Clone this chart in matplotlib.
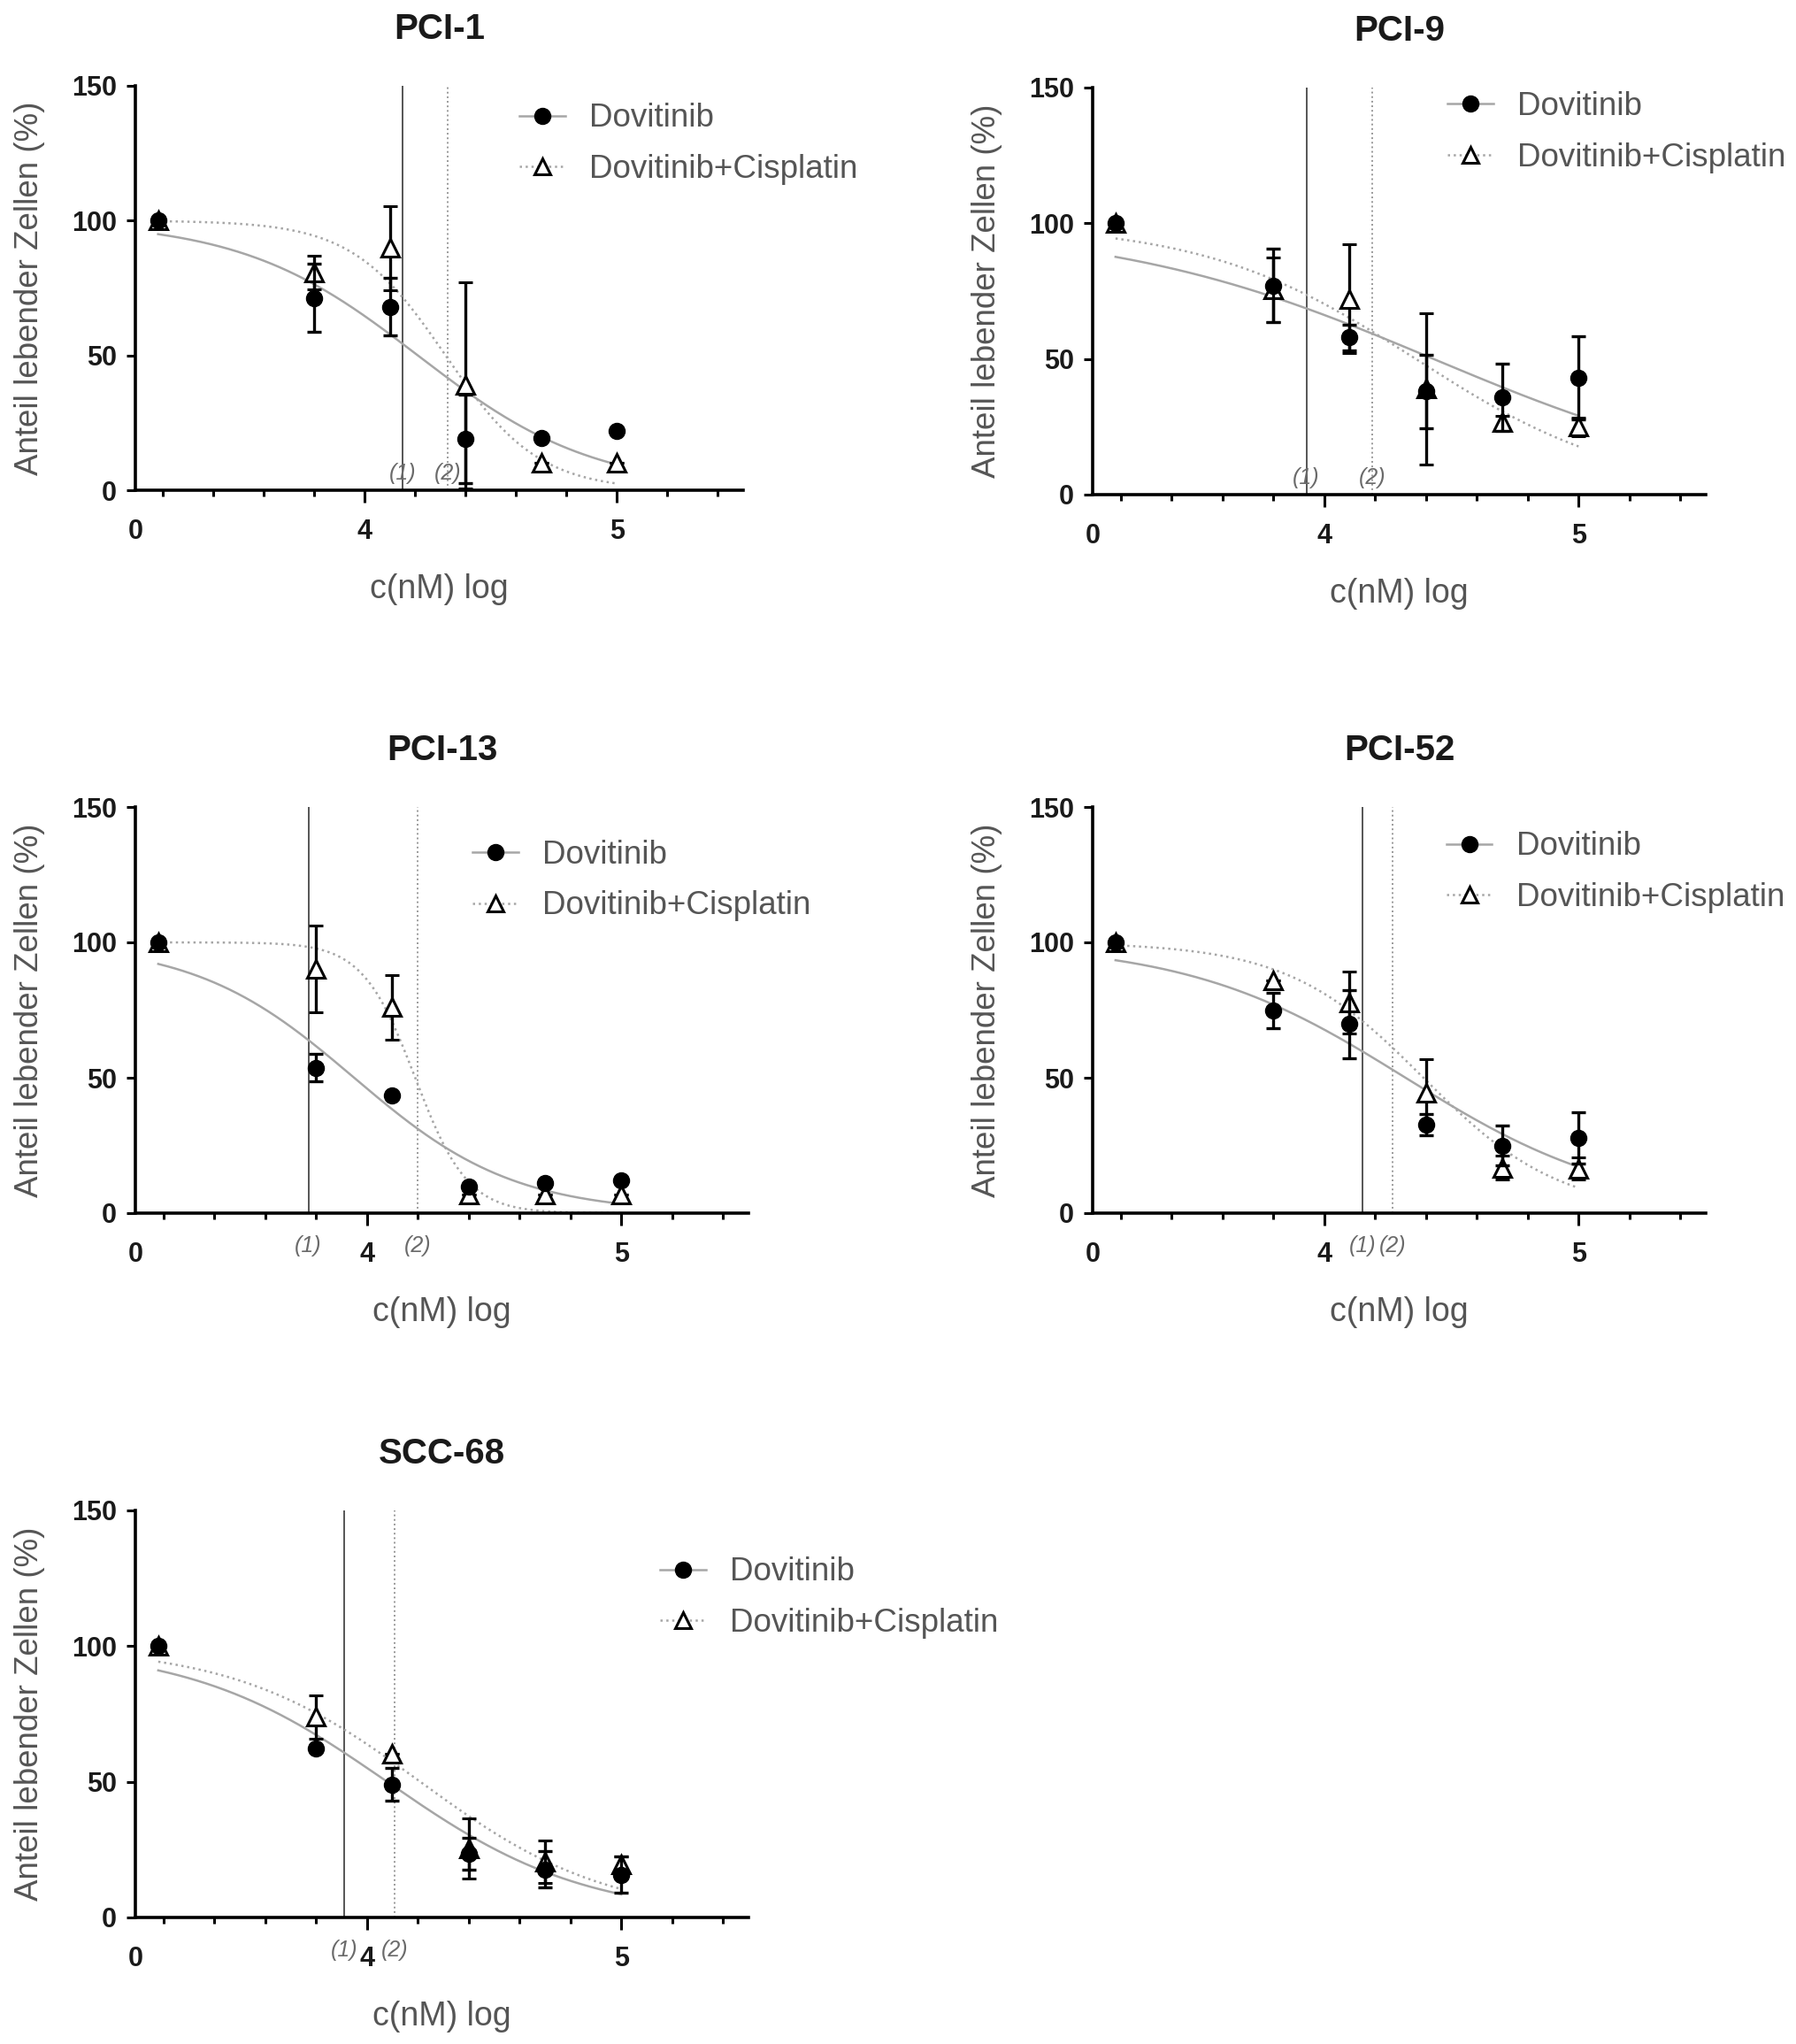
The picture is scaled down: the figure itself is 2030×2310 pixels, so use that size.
import numpy as np
import matplotlib
matplotlib.use("Agg")
import matplotlib.pyplot as plt
from matplotlib.lines import Line2D

plt.rcParams['font.family'] = ['Liberation Sans', 'DejaVu Sans']

# log10 concentration (nM); first position is the untreated control ("0")
log_conc = [3.18, 3.8, 4.1, 4.4, 4.7, 5.0]

titles = ["PCI-1", "PCI-9", "PCI-13", "PCI-52", "SCC-68"]

# Dovitinib alone
dov_mean = [
    [100, 71.3, 68.1, 19.1, 19.4, 22.0],
    [100, 77.0, 57.9, 38.0, 36.0, 43.0],
    [100, 53.7, 43.5, 9.9, 11.1, 12.1],
    [100, 74.9, 69.8, 32.7, 24.9, 27.9],
    [100, 62.2, 49.0, 23.5, 17.7, 15.8],
]
dov_err = [
    [0, 12.7, 10.7, 16.5, 0, 0],
    [0, 13.5, 4.6, 13.5, 12.4, 15.4],
    [0, 5.0, 0, 0, 0, 0],
    [0, 6.5, 12.5, 4.0, 7.3, 9.5],
    [0, 0, 6.0, 6.0, 6.6, 6.7],
]
# Dovitinib + Cisplatin
combo_mean = [
    [100, 80.7, 89.8, 38.9, 10.3, 10.3],
    [100, 75.5, 72.2, 39.0, 26.6, 25.0],
    [100, 90.2, 76.0, 7.0, 6.7, 6.7],
    [100, 86.1, 77.8, 44.6, 16.8, 16.5],
    [100, 74.0, 60.3, 25.4, 20.5, 19.5],
]
combo_err = [
    [0, 6.2, 15.6, 38.3, 0, 0],
    [0, 11.8, 20.0, 28.0, 2.5, 3.5],
    [0, 16.0, 12.0, 0, 0, 0],
    [0, 0, 11.4, 12.3, 4.3, 4.0],
    [0, 8.0, 0, 11.0, 7.8, 3.0],
]

# fitted curves: top, bottom, logIC50, hill slope
dov_fit = [
    (100, 0, 4.21, 1.24),
    (100, 0, 4.43, 0.68),
    (100, 0, 3.95, 1.38),
    (100, 0, 4.32, 1.01),
    (100, 0, 4.08, 1.12),
]
combo_fit = [
    (100, 0, 4.32, 2.35),
    (100, 0, 4.36, 1.04),
    (100, 0, 4.19, 4.2),
    (100, 0, 4.39, 1.62),
    (100, 0, 4.21, 1.18),
]

# marked positions (1) and (2)
line1 = [4.15, 3.93, 3.77, 4.15, 3.91]
line2 = [4.33, 4.19, 4.20, 4.27, 4.11]
marks_inside = [True, True, False, False, False]

W, H = 2031, 2310
fig = plt.figure(figsize=(W / 100, H / 100), dpi=100)

# axes boxes in pixels: left, top, right, bottom
boxes = [
    (153, 97, 840, 554),
    (1235, 99, 1928, 559),
    (153, 912, 846, 1371),
    (1235, 912, 1928, 1371),
    (153, 1707, 846, 2167),
]
legend_pos = [
    (0.632, 0.856),
    (0.579, 0.891),
    (0.55, 0.819),
    (0.577, 0.839),
    (0.856, 0.785),
]

grey_txt = "#555555"
curve_col = "#a6a6a6"


def logistic(x, p):
    top, bottom, c, h = p
    return bottom + (top - bottom) / (1 + 10 ** ((x - c) * h))


xs = np.linspace(log_conc[0], log_conc[-1], 300)

for i, title in enumerate(titles):
    l, t, r, b = boxes[i]
    ax = fig.add_axes([l / W, 1 - b / H, (r - l) / W, (b - t) / H])

    ax.plot(xs, logistic(xs, dov_fit[i]), color=curve_col, lw=1.8, ls='-', zorder=2)
    ax.plot(xs, logistic(xs, combo_fit[i]), color=curve_col, lw=1.8, ls=':', zorder=2)

    ax.axvline(line1[i], color="#555555", lw=1.4, ls='-', zorder=1)
    ax.axvline(line2[i], color="#999999", lw=1.4, ls=':', zorder=1)

    ax.errorbar(log_conc, combo_mean[i], yerr=combo_err[i], fmt='^', ms=15,
                mfc='white', mec='black', mew=2.2, ecolor='black', elinewidth=2.4,
                capsize=6, capthick=2.4, zorder=3)
    ax.errorbar(log_conc, dov_mean[i], yerr=dov_err[i], fmt='o', ms=13,
                mfc='black', mec='black', ecolor='black', elinewidth=2.4,
                capsize=6, capthick=2.4, zorder=4)

    ax.set_xlim(3.09, 5.5)
    ax.set_ylim(0, 150)
    ax.set_xticks([3.09, 4, 5])
    ax.set_xticklabels(['0', '4', '5'])
    minor = [v for v in np.arange(3.2, 5.41, 0.2) if abs(v - 4) > 0.01 and abs(v - 5) > 0.01]
    ax.set_xticks(minor, minor=True)
    ax.set_yticks([0, 50, 100, 150])

    for side in ['top', 'right']:
        ax.spines[side].set_visible(False)
    for side in ['left', 'bottom']:
        ax.spines[side].set_linewidth(2.6)
    ax.tick_params(which='both', direction='out', width=2.2, labelsize=22,
                   labelcolor='#1a1a1a')
    ax.tick_params(axis='x', which='major', length=10, pad=13)
    ax.tick_params(axis='x', which='minor', length=5)
    ax.tick_params(axis='y', which='major', length=7, pad=8)
    ax.xaxis.get_major_ticks()[0].tick1line.set_visible(False)
    for lab in ax.get_xticklabels() + ax.get_yticklabels():
        lab.set_fontweight('bold')

    ax.set_xlabel("c(nM) log", fontsize=27, color=grey_txt, labelpad=23)
    ax.set_ylabel("Anteil lebender Zellen (%)", fontsize=26.5, color=grey_txt, labelpad=22)
    ax.set_title(title, fontsize=29, fontweight='bold', pad=38, color='#1a1a1a')

    trans = ax.get_xaxis_transform()
    if marks_inside[i]:
        my, va = 0.015, 'bottom'
    else:
        my, va = -0.08, 'center'
    ax.text(line1[i], my, "(1)", transform=trans, ha='center', va=va,
            fontsize=18, style='italic', color="#6a6a6a")
    ax.text(line2[i], my, "(2)", transform=trans, ha='center', va=va,
            fontsize=18, style='italic', color="#6a6a6a")

    handles = [
        Line2D([], [], color=curve_col, ls='-', lw=1.8, marker='o', ms=13,
               mfc='black', mec='black'),
        Line2D([], [], color=curve_col, ls=':', lw=1.8, marker='^', ms=13,
               mfc='white', mec='black', mew=2.2),
    ]
    leg = ax.legend(handles, ["Dovitinib", "Dovitinib+Cisplatin"], loc='center left',
                    bbox_to_anchor=legend_pos[i], frameon=False, fontsize=26.5,
                    handlelength=1.4, handletextpad=0.75, labelspacing=0.62,
                    borderaxespad=0, borderpad=0)
    for txt in leg.get_texts():
        txt.set_color(grey_txt)

fig.savefig("out.png", dpi=100)
